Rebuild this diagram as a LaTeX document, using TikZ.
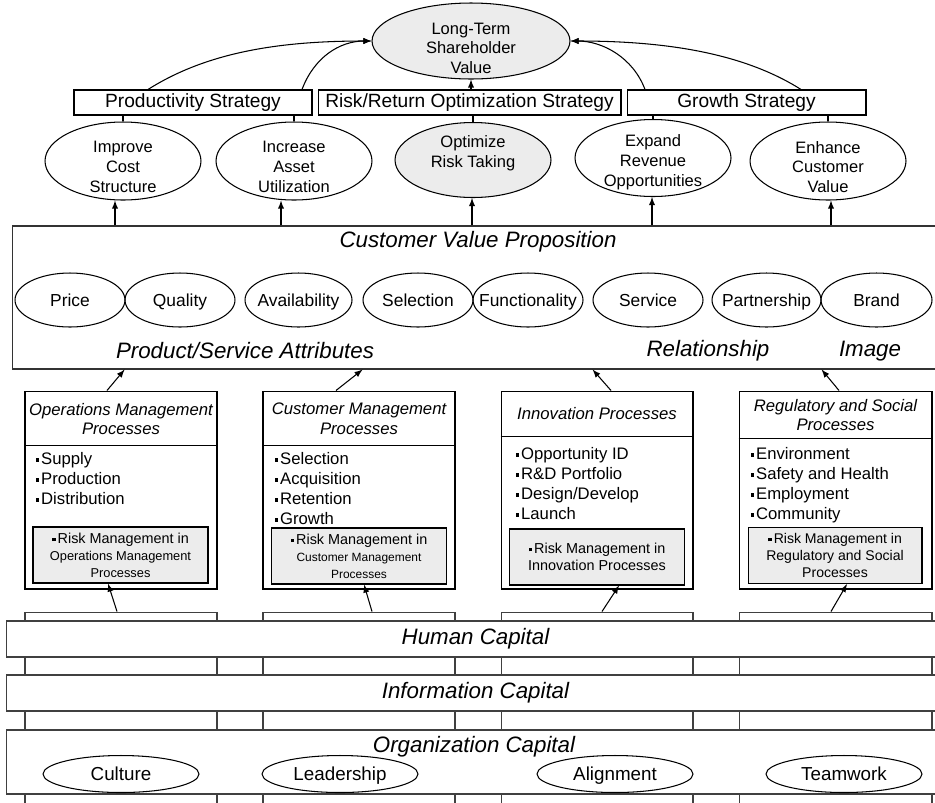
\documentclass[tikz,border=0pt]{standalone}
\usepackage{fontspec}
\setmainfont{Liberation Sans}
\usetikzlibrary{shapes.geometric,calc}

\newcommand{\pbul}{\raisebox{0.3ex}{\rule{2pt}{2pt}}\kern1.2pt}

\tikzset{
  ovaltext/.style={align=center,inner sep=0pt,font=\fontsize{9.4}{11.3}\selectfont},
  oval/.style 2 args={ellipse,draw,inner sep=0pt,minimum width=3.12cm,minimum height=1.56cm,label={[ovaltext,yshift=#2]center:{#1}}},
  attrtext/.style={inner sep=0pt,text height=7.2pt,text depth=0pt,font=\fontsize{9.9}{12}\selectfont},
  attr/.style={ellipse,draw,inner sep=0pt,minimum width=2.2cm,minimum height=1.08cm,label={[attrtext]center:#1}},
  strat/.style={draw,inner sep=0pt,minimum height=0.5cm,font=\fontsize{10.9}{13}\selectfont},
  bigit/.style={font=\fontsize{12.7}{15}\selectfont\itshape},
  procbox/.style={draw,minimum width=3.84cm,minimum height=3.96cm},
  prochead/.style={align=center,inner sep=0pt,font=\fontsize{9.5}{11.3}\selectfont\itshape},
  plist/.style={anchor=north west,inner sep=0pt,align=left,font=\fontsize{9.5}{11.3}\selectfont},
  riskbox/.style={draw,fill=gray!15,minimum width=3.5cm,minimum height=1.12cm,inner sep=0pt,align=center,font=\fontsize{7.3}{9.6}\selectfont},
  column/.style={draw=black!75,minimum width=3.84cm,minimum height=4.36cm},
  band/.style={draw=black!75,fill=white,minimum width=18.78cm,bigit},
  orgoval/.style={ellipse,draw,inner sep=0pt,minimum width=3.12cm,minimum height=0.74cm,text height=7.8pt,text depth=0pt,font=\fontsize{10.7}{13}\selectfont},
}

\begin{document}
\begin{tikzpicture}[x=0.02cm,y=-0.02cm,line width=0.6pt]
\useasboundingbox (0,0) rectangle (935,802);

% shareholder value and strategies
\node[oval={Long-Term\\Shareholder\\Value}{-4.2pt},fill=gray!15,minimum width=3.96cm,minimum height=1.52cm] (ltsv) at (471,41) {};
\node[strat,minimum width=4.76cm] (prod) at (193,102.5) {Productivity Strategy};
\node[strat,minimum width=6.06cm] (risk) at (469.5,102.5) {Risk/Return Optimization Strategy};
\node[strat,minimum width=4.78cm] (grow) at (746.5,102.5) {Growth Strategy};

\node[oval={Improve\\Cost\\Structure}{-3.4pt}] (imp) at (123,161) {};
\node[oval={Increase\\Asset\\Utilization}{-3.4pt}] (inc) at (294,161) {};
\node[oval={Optimize\\Risk Taking}{4pt},fill=gray!15,minimum height=1.5cm] (opt) at (473,160) {};
\node[oval={Expand\\Revenue\\Opportunities}{-2.3pt},minimum height=1.54cm] (exp) at (653,158) {};
\node[oval={Enhance\\Customer\\Value}{-3.4pt}] (enh) at (828,161) {};

\draw[-latex] ($(prod.north)+(-45,0)$) .. controls +(60,-38) and +(-90,0) .. (ltsv.west);
\draw[-latex] ($(prod.north)+(109,0)$) .. controls +(12,-32) and +(-32,0) .. (ltsv.west);
\draw[-latex] ($(grow.north)+(-101.5,0)$) .. controls +(-12,-32) and +(32,0) .. (ltsv.east);
\draw[-latex] ($(grow.north)+(54.5,0)$) .. controls +(-60,-38) and +(90,0) .. (ltsv.east);
\draw[-latex] (risk.north -| ltsv.south) -- (ltsv.south);

\draw (prod.south -| imp.north) -- (imp.north);
\draw (prod.south -| inc.north) -- (inc.north);
\draw (risk.south -| opt.north) -- (opt.north);
\draw (grow.south -| exp.north) -- (exp.north);
\draw (grow.south -| enh.north) -- (enh.north);

% customer value proposition
\node[draw=black!80,minimum width=18.66cm,minimum height=2.86cm] (cvp) at (478.5,297.5) {};
\node[bigit] (cvpt) at (478,242) {Customer Value Proposition};
\node[attr=Price] (price) at (70,300) {};
\node[attr=Quality] (qual) at (180,300) {};
\node[attr=Availability,minimum width=2.14cm] (avail) at (298.5,300) {};
\node[attr=Selection] (sel) at (418,300) {};
\node[attr=Functionality] (func) at (528,300) {};
\node[attr=Service] (serv) at (648,300) {};
\node[attr=Partnership,minimum width=2.18cm] (part) at (766.5,300) {};
\node[attr=Brand,minimum width=2.22cm] (brand) at (876.5,300) {};
\node[bigit] (psa) at (245,351) {Product/Service Attributes};
\node[bigit] (rel) at (708,351) {Relationship};
\node[bigit] (img) at (870,351) {Image};

\foreach \n/\dx in {imp/-8,inc/-13,opt/-1,exp/-1,enh/3} {
  \coordinate (\n-in) at ($(\n.south)+(\dx,0)$);
  \draw[-latex] (cvp.north -| \n-in) -- (\n-in);
}

% internal processes
\node[procbox] (ops) at (121,490) {};
\node[procbox] (cust) at (359,490) {};
\node[procbox] (innov) at (597,490) {};
\node[procbox,minimum width=3.86cm] (reg) at (835.5,490) {};
\draw ($(ops.north west)+(0,55)$) -- ($(ops.north east)+(0,55)$);
\draw ($(cust.north west)+(0,55)$) -- ($(cust.north east)+(0,55)$);
\draw ($(innov.north west)+(0,46)$) -- ($(innov.north east)+(0,46)$);
\draw ($(reg.north west)+(0,48)$) -- ($(reg.north east)+(0,48)$);

\node[prochead] (opsh) at (121,419) {Operations Management\\Processes};
\node[prochead] (custh) at (359,419) {Customer Management\\Processes};
\node[prochead] (innovh) at (597,414) {Innovation Processes};
\node[prochead] (regh) at (835.5,415) {Regulatory and Social\\Processes};

\node[plist] (opsl) at (35,452) {\pbul Supply\\\pbul Production\\\pbul Distribution};
\node[plist] (custl) at (274,452) {\pbul Selection\\\pbul Acquisition\\\pbul Retention\\\pbul Growth};
\node[plist] (innovl) at (515,447) {\pbul Opportunity ID\\\pbul R\&D Portfolio\\\pbul Design/Develop\\\pbul Launch};
\node[plist] (regl) at (750,447) {\pbul Environment\\\pbul Safety and Health\\\pbul Employment\\\pbul Community};

\node[riskbox] (opsr) at (120.5,555) {{\fontsize{8.2}{9.6}\selectfont\pbul Risk Management in}\\Operations Management\\Processes};
\node[riskbox,font=\fontsize{6.8}{9.6}\selectfont] (custr) at (359,556) {{\fontsize{8.2}{9.6}\selectfont\pbul Risk Management in}\\Customer Management\\Processes};
\node[riskbox,font=\fontsize{8.2}{9.6}\selectfont] (innovr) at (597,557) {\pbul Risk Management in\\Innovation Processes};
\node[riskbox,minimum width=3.48cm,font=\fontsize{8}{9.6}\selectfont] (regr) at (835,555.5) {\pbul Risk Management in\\Regulatory and Social\\Processes};

\draw[-latex] ($(ops.north)+(-14,0)$) -- ($(cvp.south west)+(113,0)$);
\draw[-latex] ($(cust.north)+(-23,0)$) -- ($(cvp.south west)+(351,0)$);
\draw[-latex] ($(innov.north)+(14,0)$) -- ($(cvp.south west)+(581,0)$);
\draw[-latex] ($(reg.north)+(3.5,0)$) -- ($(cvp.south west)+(810,0)$);

% learning and growth
\node[column] (col1) at (121,721) {};
\node[column] (col2) at (359,721) {};
\node[column] (col3) at (597,721) {};
\node[column,minimum width=3.86cm] (col4) at (835.5,721) {};

\node[band,minimum height=0.72cm] (human) at (475.5,639) {Human Capital};
\node[band,minimum height=0.72cm] (info) at (475.5,693) {Information Capital};
\node[band,minimum height=1.28cm] (org) at (475.5,762) {};
\node[bigit] (orgt) at (474,747) {Organization Capital};

\node[orgoval] (cult) at (121,774) {Culture};
\node[orgoval] (lead) at (340,774) {Leadership};
\node[orgoval] (align) at (615,774) {Alignment};
\node[orgoval] (team) at (844,774) {Teamwork};

\draw[-latex] ($(col1.north)+(-4,0)$) -- ($(opsr.south)+(-12.5,0)$);
\draw[-latex] ($(col2.north)+(13,0)$) -- ($(custr.south)+(5,0)$);
\draw[-latex] ($(col3.north)+(5,0)$) -- ($(innovr.south)+(22,0)$);
\draw[-latex] ($(col4.north)+(-4.5,0)$) -- ($(regr.south)+(12,0)$);
\end{tikzpicture}
\end{document}
